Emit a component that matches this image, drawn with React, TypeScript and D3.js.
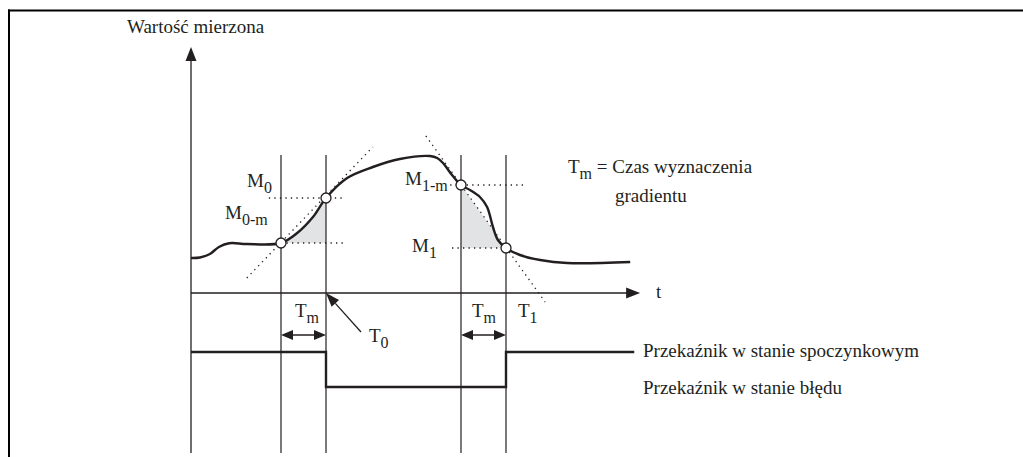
import React from "react";
import * as d3 from "d3";

// ---- data ----
const curveT = [0, 2, 4.2, 6.2, 8.5, 12.4, 20, 23.6, 27.1, 30, 34.7, 40.4, 46.4, 53.1, 54.7, 56, 58, 60, 62, 64.2, 65.8, 67.1, 68.2, 70, 73.1, 77.6, 83.6, 97.6];
const curveV = [14, 14.2, 15.6, 18.4, 19.9, 19.6, 20, 24, 30.4, 38, 46, 50.4, 53.6, 54.8, 54, 52, 47.2, 43.2, 41.2, 38.4, 34.4, 26.4, 21.2, 18, 15.2, 13.2, 12, 12.4];
const markT = [20, 30, 60, 70]; // T0-m, T0, T1-m, T1
const markV = [20, 38, 43.2, 18]; // M0-m, M0, M1-m, M1
const relayT = [0, 30, 70, 98.5];
const relayState = [1, 0, 1, 1];
const tangent0 = [[12.4, 6], [40.4, 58.4]];
const tangent1 = [[52.2, 62.8], [78.7, -3.6]];
const hLines = [[17.3, 34.4, 38], [20, 34.4, 20], [57.6, 74.7, 43.2], [58, 70, 18]];
const relayLabels = ["Przekaźnik w stanie spoczynkowym", "Przekaźnik w stanie błędu"];
const yLabel = "Wartość mierzona";
const legendText = " = Czas wyznaczenia";
const legendText2 = "gradientu";

const W = 1023, H = 457;
const INK = "#231f20";
const FONT = "'Liberation Serif', 'Times New Roman', serif";

export default function App() {
  const x = d3.scaleLinear().domain([0, 100]).range([191, 641]);
  const y = d3.scaleLinear().domain([0, 100]).range([293, 43]);
  const ry = d3.scaleLinear().domain([0, 1]).range([387, 352]);
  const bottom = 453;

  const pts: [number, number][] = curveT.map((t, i) => [t, curveV[i]]);
  const line = d3.line<[number, number]>().x(d => x(d[0])).y(d => y(d[1])).curve(d3.curveCatmullRom.alpha(0.5));
  const area = d3.area<[number, number]>().x(d => x(d[0])).y0(y(markV[0])).y1(d => y(d[1])).curve(d3.curveCatmullRom.alpha(0.5));
  const straight = d3.line<number[]>().x(d => x(d[0])).y(d => y(d[1]));
  const relayPts: [number, number][] = relayT.map((t, i) => [t, relayState[i]]);
  const relayLine = d3.line<[number, number]>().x(d => x(d[0])).y(d => ry(d[1])).curve(d3.curveStepAfter);

  const tri = straight([[markT[2], markV[2]], [markT[2], markV[3]], [markT[3], markV[3]]]) + "Z";

  const x0 = x(0);
  const yTop = y(98.4);
  const xEnd = x(99.8);
  const yAx = y(0);
  const arrowY = 335;

  const dbl = (a: number, b: number) => {
    const L = 12, h = 5;
    return `M${a},${arrowY}L${a + L},${arrowY - h}L${a + L},${arrowY + h}Z M${b},${arrowY}L${b - L},${arrowY - h}L${b - L},${arrowY + h}Z`;
  };

  // T0 pointer arrow
  const tipX = x(markT[1]), tipY = yAx;
  const tailX = 361, tailY = 332;
  const ang = Math.atan2(tailY - tipY, tailX - tipX);
  const hl = 14, hw = 5;
  const bx = tipX + Math.cos(ang) * hl, by = tipY + Math.sin(ang) * hl;
  const px = -Math.sin(ang) * hw, py = Math.cos(ang) * hw;

  const txt = { fontFamily: FONT, fontSize: 19, fill: INK } as const;
  const sub = 16;

  return (
    <svg width={W} height={H} style={{ position: "absolute", left: 0, top: 0, background: "#fff" }}>
      <defs>
        <clipPath id="c0">
          <rect x={x(markT[0])} y={y(60)} width={x(markT[1]) - x(markT[0])} height={y(markV[0]) - y(60)} />
        </clipPath>
      </defs>
      {/* frame */}
      <line x1={8} y1={10.5} x2={W} y2={10.5} stroke="#000" strokeWidth={2} />
      <line x1={9} y1={9.5} x2={9} y2={H} stroke="#000" strokeWidth={2} />

      {/* shaded areas */}
      <path d={area(pts) || ""} fill="#e2e3e5" clipPath="url(#c0)" />
      <path d={tri} fill="#e2e3e5" />

      {/* vertical marker lines */}
      {markT.map((t, i) => (
        <line key={i} x1={x(t)} x2={x(t)} y1={155} y2={bottom} stroke={INK} strokeWidth={1.2} />
      ))}

      {/* axes */}
      <line x1={x0} x2={x0} y1={yTop + 10} y2={bottom} stroke={INK} strokeWidth={1.3} />
      <path d={`M${x0},${yTop}L${x0 - 5.5},${yTop + 14}L${x0 + 5.5},${yTop + 14}Z`} fill={INK} />
      <line x1={x0} x2={xEnd - 10} y1={yAx} y2={yAx} stroke={INK} strokeWidth={1.3} />
      <path d={`M${xEnd},${yAx}L${xEnd - 14},${yAx - 5.5}L${xEnd - 14},${yAx + 5.5}Z`} fill={INK} />

      {/* dotted helper lines */}
      {[tangent0, tangent1].map((tg, i) => (
        <path key={i} d={straight(tg) || ""} stroke={INK} strokeWidth={1.3} strokeDasharray="1.3,4.2" fill="none" />
      ))}
      {hLines.map((h, i) => (
        <line key={i} x1={x(h[0])} x2={x(h[1])} y1={y(h[2])} y2={y(h[2])} stroke={INK} strokeWidth={1.3} strokeDasharray="1.3,4.2" />
      ))}

      {/* measured curve */}
      <path d={line(pts) || ""} stroke={INK} strokeWidth={2.4} fill="none" strokeLinejoin="round" />

      {/* points */}
      {markT.map((t, i) => (
        <circle key={i} cx={x(t)} cy={y(markV[i])} r={5} fill="#fff" stroke={INK} strokeWidth={1.3} />
      ))}

      {/* relay */}
      <path d={relayLine(relayPts) || ""} stroke={INK} strokeWidth={2.4} fill="none" />

      {/* Tm arrows */}
      {[[markT[0], markT[1]], [markT[2], markT[3]]].map((p, i) => (
        <g key={i}>
          <line x1={x(p[0]) + 6} x2={x(p[1]) - 6} y1={arrowY} y2={arrowY} stroke={INK} strokeWidth={1.3} />
          <path d={dbl(x(p[0]), x(p[1]))} fill={INK} />
        </g>
      ))}

      {/* T0 pointer */}
      <line x1={tailX} y1={tailY} x2={bx} y2={by} stroke={INK} strokeWidth={1.3} />
      <path d={`M${tipX},${tipY}L${bx + px},${by + py}L${bx - px},${by - py}Z`} fill={INK} />

      {/* texts */}
      <text x={127} y={33} {...txt}>{yLabel}</text>
      <text x={656} y={298} {...txt}>t</text>

      <text x={247} y={187} {...txt}>M<tspan fontSize={sub} dy={6}>0</tspan></text>
      <text x={225} y={219} {...txt}>M<tspan fontSize={sub} dy={6}>0-m</tspan></text>
      <text x={405} y={185} {...txt}>M<tspan fontSize={sub} dy={6}>1-m</tspan></text>
      <text x={412} y={252} {...txt}>M<tspan fontSize={sub} dy={6}>1</tspan></text>

      <text x={295} y={317} {...txt}>T<tspan fontSize={sub} dy={6}>m</tspan></text>
      <text x={472} y={317} {...txt}>T<tspan fontSize={sub} dy={6}>m</tspan></text>
      <text x={518} y={317} {...txt}>T<tspan fontSize={sub} dy={6}>1</tspan></text>
      <text x={369} y={342} {...txt}>T<tspan fontSize={sub} dy={6}>0</tspan></text>

      <text x={568} y={173} {...txt}>T<tspan fontSize={sub} dy={6}>m</tspan><tspan dy={-6}>{legendText}</tspan></text>
      <text x={615} y={202} {...txt}>{legendText2}</text>

      <text x={643} y={357} {...txt}>{relayLabels[0]}</text>
      <text x={643} y={394} {...txt}>{relayLabels[1]}</text>
    </svg>
  );
}
